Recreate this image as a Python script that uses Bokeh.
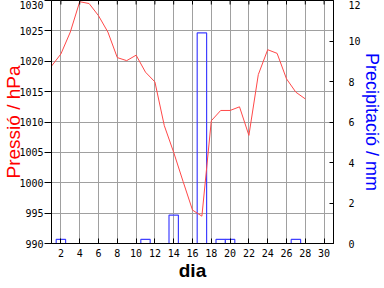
import math
from bokeh.plotting import figure
from bokeh.models import Range1d, LinearAxis, FixedTicker, ColumnDataSource
from bokeh.embed import file_html
from bokeh.resources import INLINE

# Data
days = list(range(1, 29))
pressure = [1019.2, 1021.2, 1024.8, 1029.8, 1029.5, 1027.5, 1024.8, 1020.6,
            1020.1, 1021.0, 1018.2, 1016.6, 1009.4, 1005.0, 1000.2, 995.5,
            994.5, 1010.2, 1011.9, 1011.9, 1012.5, 1007.8, 1017.8, 1021.9,
            1021.3, 1017.1, 1014.9, 1013.8]
rain_days = [2, 11, 14, 17, 19, 20, 27]
rain_mm = [0.2, 0.2, 1.4, 10.4, 0.2, 0.2, 0.2]
x_ticks = list(range(2, 31, 2))
p_ticks = list(range(990, 1031, 5))
r_ticks = list(range(0, 13, 2))

mono = "DejaVu Sans Mono"
sans = "Liberation Sans"

p = figure(width=384, height=288, output_backend="svg", toolbar_location=None,
           x_range=Range1d(1, 31), y_range=Range1d(990, 1030),
           min_border_left=0, min_border_right=0, min_border_top=0, min_border_bottom=45)
p.extra_y_ranges = {"precip": Range1d(0, 12)}
p.background_fill_color = "white"
p.border_fill_color = "white"
p.outline_line_color = "black"
p.outline_line_width = 1

# bars
src_r = ColumnDataSource(dict(x=rain_days, top=rain_mm))
p.vbar(x="x", top="top", bottom=0, width=1.0, source=src_r, y_range_name="precip",
       fill_alpha=0, line_color="#4040ff", line_width=1.2)

src_p = ColumnDataSource(dict(x=days, y=pressure))
p.line(x="x", y="y", source=src_p, line_color="#ff4848", line_width=1)

# top tick marks (half of a dash marker at the top edge, clipped by the frame)
src_t = ColumnDataSource(dict(x=x_ticks, y=[p_ticks[-1]] * len(x_ticks)))
p.scatter(x="x", y="y", source=src_t, marker="dash", size=8, angle=math.pi / 2,
          line_color="black", line_width=1)

# bottom axis
xa = p.xaxis[0]
xa.ticker = FixedTicker(ticks=x_ticks)
xa.axis_label = "dia"
xa.axis_label_text_font = sans
xa.axis_label_text_font_style = "bold"
xa.axis_label_text_font_size = "19px"
xa.axis_label_text_color = "black"
xa.axis_label_standoff = 0
xa.major_label_text_font = mono
xa.major_label_text_font_size = "10px"
xa.major_label_text_color = "black"
xa.major_label_standoff = 5
xa.major_tick_in = 5
xa.major_tick_out = 0
xa.minor_tick_line_color = None
xa.axis_line_color = "black"

# left axis
ya = p.yaxis[0]
ya.ticker = FixedTicker(ticks=p_ticks)
ya.axis_label = "Pressió / hPa"
ya.axis_label_text_font = sans
ya.axis_label_text_font_style = "normal"
ya.axis_label_text_font_size = "19px"
ya.axis_label_text_color = "#ff0000"
ya.axis_label_standoff = -8
ya.major_label_text_font = mono
ya.major_label_text_font_size = "10px"
ya.major_label_text_color = "black"
ya.major_label_standoff = 1
ya.major_tick_in = 0
ya.major_tick_out = 7
ya.minor_tick_line_color = None
ya.axis_line_color = "black"

# right axis
ra = LinearAxis(y_range_name="precip", ticker=FixedTicker(ticks=r_ticks))
ra.axis_label = "Precipitació / mm"
ra.axis_label_text_font = sans
ra.axis_label_text_font_style = "normal"
ra.axis_label_text_font_size = "18px"
ra.axis_label_text_color = "#0000ff"
ra.axis_label_standoff = -2
ra.major_label_text_font = mono
ra.major_label_text_font_size = "10px"
ra.major_label_text_color = "black"
ra.major_label_standoff = 15
ra.major_tick_in = 4
ra.major_tick_out = 0
ra.minor_tick_line_color = None
ra.axis_line_color = "black"
p.add_layout(ra, "right")

# grid
p.xgrid[0].ticker = FixedTicker(ticks=x_ticks)
p.ygrid[0].ticker = FixedTicker(ticks=p_ticks)
for g in (p.xgrid[0], p.ygrid[0]):
    g.grid_line_color = "#a0a0a0"
    g.grid_line_width = 1

open("out.html", "w").write(file_html(p, INLINE))
